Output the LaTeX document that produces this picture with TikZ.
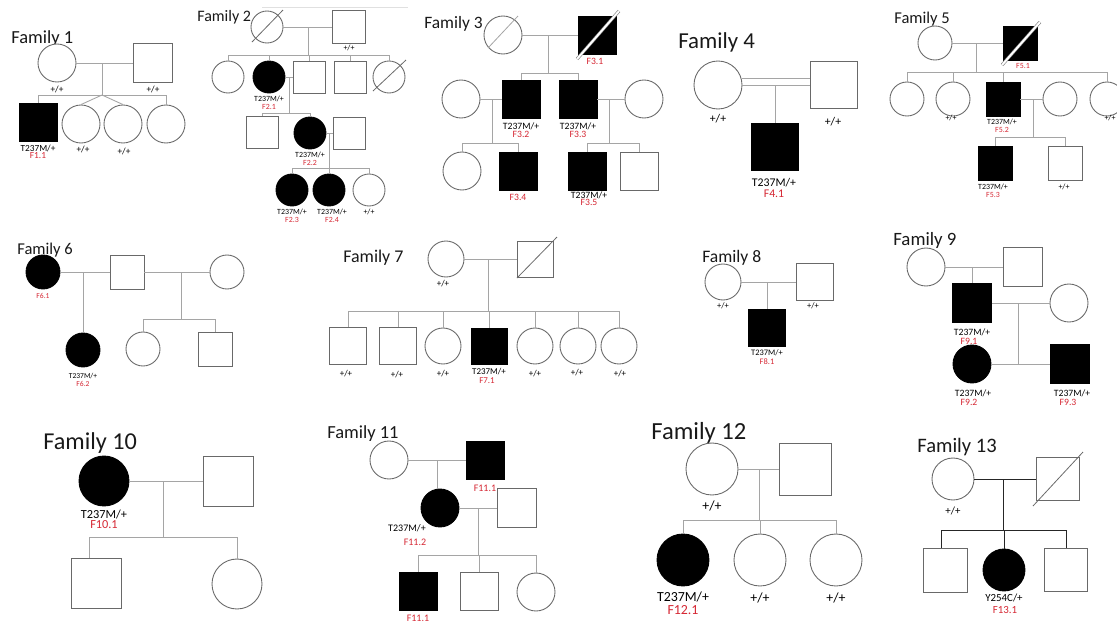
\documentclass[tikz,border=0pt]{standalone}
\usepackage{fontspec}
\setmainfont{Carlito}
\usetikzlibrary{calc}
\definecolor{outl}{RGB}{105,105,105}
\definecolor{lgray}{RGB}{165,165,165}
\definecolor{idred}{RGB}{214,40,52}
\definecolor{ink}{RGB}{25,25,25}
\tikzset{
  fem/.style={circle, draw=outl, fill=white, line width=0.5pt, inner sep=0pt, minimum size=#1*0.02cm},
  mal/.style={rectangle, draw=outl, fill=white, line width=0.5pt, inner sep=0pt, minimum size=#1*0.02cm},
  aff/.style={fill=black, draw=black},
  ln/.style={draw=lgray, line width=0.5pt},
  dk/.style={draw=black!85, line width=0.55pt},
  ded/.style={draw=outl, line width=0.45pt},
  dded/.style={draw=gray, double=white, double distance=1.1pt, line width=0.35pt},
  ttl/.style={anchor=base west, inner sep=0pt, text=ink, font=\fontsize{#1}{#1}\selectfont},
  gt/.style={inner sep=0pt, text=black, font=\fontsize{#1}{#1}\selectfont},
  pid/.style={inner sep=0pt, text=idred, font=\fontsize{#1}{#1}\selectfont},
}
\begin{document}
\begin{tikzpicture}[x=0.02cm, y=-0.02cm]
\fill[white] (0,0) rectangle (1117,623);
\useasboundingbox (0,0) rectangle (1117,623);

% ---------------- Family 1 ----------------
\node[ttl=10.5pt] (t1) at (11,43) {Family 1};
\node[fem=38] (f1m) at (57,63) {};
\node[mal=39] (f1f) at (153,63) {};
\coordinate (f1d) at (102,63);
\coordinate (f1s) at (102,95);
\node[mal=38,aff] (f1a) at (38,122) {};
\node[fem=38] (f1b) at (81,124) {};
\node[fem=38] (f1c) at (123,124) {};
\node[fem=38] (f1e) at (166,124) {};
\draw[ln] (f1m) -- (f1f);
\draw[ln] (f1d) -- (f1s);
\draw[ln] (f1a.north |- f1s) -- (f1e.north |- f1s);
\draw[ln] (f1a.north |- f1s) -- (f1a.north);
\draw[ln] (f1e.north |- f1s) -- (f1e.north);
\draw[ln] (f1s) -- (f1b.north);
\draw[ln] (f1s) -- (f1c.north);
\node[gt=5.3pt] (l1a) at (57,89) {+/+};
\node[gt=5.3pt] (l1b) at (153,89) {+/+};
\node[gt=5.3pt] (l1c) at (38,148) {T237M/+};
\node[pid=5.3pt] (l1d) at (38,155.5) {F1.1};
\node[gt=5.3pt] (l1e) at (83,149) {+/+};
\node[gt=5.3pt] (l1f) at (124,151) {+/+};

% ---------------- Family 2 ----------------
\draw[draw=black!12, line width=0.4pt] (262,7) -- (408,7);
\node[ttl=9.1pt] (t2) at (197,21) {Family 2};
\node[fem=32] (f2gm) at (267,27) {};
\node[mal=33] (f2gf) at (349,27) {};
\coordinate (f2d) at (308,27);
\coordinate (f2s) at (308,55);
\node[fem=32] (f2a) at (228,77) {};
\node[fem=32,aff] (f2b) at (269,77) {};
\node[mal=32] (f2c) at (309,77) {};
\node[mal=32] (f2e) at (350,77) {};
\node[fem=32] (f2x) at (389,77) {};
\coordinate (f2d2) at (289,77);
\coordinate (f2s2) at (289,113);
\node[mal=32] (f2g) at (262,132) {};
\node[fem=32,aff] (f2h) at (310,133) {};
\node[mal=32] (f2i) at (349,133) {};
\coordinate (f2d3) at (329,133);
\coordinate (f2s3) at (329,168);
\node[fem=32,aff] (f2j) at (292,190) {};
\node[fem=32,aff] (f2k) at (329,190) {};
\node[fem=32] (f2l) at (369,190) {};
\draw[ln] (f2gm) -- (f2gf);
\draw[ln] (f2d) -- (f2s);
\draw[ln] (f2a.north |- f2s) -- (f2x.north |- f2s);
\foreach \n in {f2a,f2b,f2c,f2e,f2x} \draw[ln] (\n.north |- f2s) -- (\n.north);
\draw[ln] (f2b) -- (f2c);
\draw[ln] (f2d2) -- (f2s2);
\draw[ln] (f2g.north |- f2s2) -- (f2h.north |- f2s2);
\foreach \n in {f2g,f2h} \draw[ln] (\n.north |- f2s2) -- (\n.north);
\draw[ln] (f2h) -- (f2i);
\draw[ln] (f2d3) -- (f2s3);
\draw[ln] (f2j.north |- f2s3) -- (f2l.north |- f2s3);
\foreach \n in {f2j,f2k,f2l} \draw[ln] (\n.north |- f2s3) -- (\n.north);
\draw[ded] ($(f2gm)+(-15,15)$) -- ($(f2gm)+(16,-17)$);
\draw[ded] ($(f2x)+(-16,14)$) -- ($(f2x)+(17,-17)$);
\node[gt=4.5pt] (l2a) at (349,48) {+/+};
\node[gt=4.5pt] (l2b) at (269,99) {T237M/+};
\node[pid=4.5pt] (l2c) at (269,107) {F2.1};
\node[gt=4.5pt] (l2d) at (310,155) {T237M/+};
\node[pid=4.5pt] (l2e) at (310,163) {F2.2};
\node[gt=4.5pt] (l2f) at (292,212) {T237M/+};
\node[pid=4.5pt] (l2g) at (292,220) {F2.3};
\node[gt=4.5pt] (l2h) at (332,212) {T237M/+};
\node[pid=4.5pt] (l2i) at (332,220) {F2.4};
\node[gt=4.5pt] (l2j) at (369,212) {+/+};

% ---------------- Family 3 ----------------
\node[ttl=9.9pt] (t3) at (424,28) {Family 3};
\node[fem=38] (f3gm) at (503,35) {};
\node[mal=38,aff] (f3gf) at (597,35) {};
\coordinate (f3d) at (548,35);
\coordinate (f3s) at (548,73);
\node[fem=38] (f3a) at (461,99) {};
\node[mal=38,aff] (f3b) at (521,99) {};
\node[mal=38,aff] (f3c) at (578,99) {};
\node[fem=38] (f3e) at (644,99) {};
\coordinate (f3d2) at (492,99);
\coordinate (f3s2) at (492,143);
\coordinate (f3d3) at (609,99);
\coordinate (f3s3) at (609,143);
\node[fem=38] (f3f) at (462,171) {};
\node[mal=38,aff] (f3g) at (518,171) {};
\node[mal=38,aff] (f3h) at (587,171) {};
\node[mal=38] (f3i) at (639,171) {};
\draw[ln] (f3gm) -- (f3gf);
\draw[ln] (f3d) -- (f3s);
\draw[ln] (f3b.north |- f3s) -- (f3c.north |- f3s);
\foreach \n in {f3b,f3c} \draw[ln] (\n.north |- f3s) -- (\n.north);
\draw[ln] (f3a) -- (f3b);
\draw[ln] (f3d2) -- (f3s2);
\draw[ln] (f3f.north |- f3s2) -- (f3g.north |- f3s2);
\foreach \n in {f3f,f3g} \draw[ln] (\n.north |- f3s2) -- (\n.north);
\draw[ln] (f3c) -- (f3e);
\draw[ln] (f3d3) -- (f3s3);
\draw[ln] (f3h.north |- f3s3) -- (f3i.north |- f3s3);
\foreach \n in {f3h,f3i} \draw[ln] (\n.north |- f3s3) -- (\n.north);
\draw[ded, draw=lgray] ($(f3gm)+(-15,13)$) -- ($(f3gm)+(15,-19)$);
\draw[dded] ($(f3gf)+(-20,24)$) -- ($(f3gf)+(22,-24)$);
\node[pid=5.5pt] (l3a) at (595,61) {F3.1};
\node[gt=5.5pt] (l3b) at (521,126) {T237M/+};
\node[pid=5.5pt] (l3c) at (521,134) {F3.2};
\node[gt=5.5pt] (l3d) at (578,126) {T237M/+};
\node[pid=5.5pt] (l3e) at (578,134) {F3.3};
\node[pid=5.5pt] (l3f) at (518,197) {F3.4};
\node[gt=5.5pt] (l3g) at (589,195) {T237M/+};
\node[pid=5.5pt] (l3h) at (589,202.5) {F3.5};

% ---------------- Family 4 ----------------
\node[ttl=13pt] (t4) at (678,48) {Family 4};
\node[fem=48] (f4m) at (718,85) {};
\node[mal=47] (f4f) at (834,85) {};
\node[mal=47,aff] (f4c) at (775,147) {};
\draw[ln] (f4m) -- (f4f);
\draw[ln] ([yshift=0.13cm]f4m.east) -- ([yshift=0.13cm]f4f.west);
\draw[ln] (f4c.north |- f4m) -- (f4c.north);
\node[gt=6.7pt] (l4a) at (718,119) {+/+};
\node[gt=6.7pt] (l4b) at (833,122) {+/+};
\node[gt=6.7pt] (l4c) at (774,183) {T237M/+};
\node[pid=6.7pt] (l4d) at (774,193.5) {F4.1};

% ---------------- Family 5 ----------------
\node[ttl=9.4pt] (t5) at (894,23) {Family 5};
\node[fem=34] (f5m) at (935,43) {};
\node[mal=34,aff] (f5f) at (1020,43) {};
\coordinate (f5d) at (976,43);
\coordinate (f5s) at (976,72);
\node[fem=34] (f5a) at (907,99) {};
\node[fem=34] (f5b) at (953,99) {};
\node[mal=34,aff] (f5c) at (1003,99) {};
\node[fem=34] (f5e) at (1060,99) {};
\node[fem=34] (f5x) at (1107,99) {};
\coordinate (f5d2) at (1033,99);
\coordinate (f5s2) at (1033,137);
\node[mal=34,aff] (f5g) at (995,163) {};
\node[mal=34] (f5h) at (1065,163) {};
\draw[ln] (f5m) -- (f5f);
\draw[ln] (f5d) -- (f5s);
\draw[ln] (f5a.north |- f5s) -- (f5x.north |- f5s);
\foreach \n in {f5a,f5b,f5c,f5x} \draw[ln] (\n.north |- f5s) -- (\n.north);
\draw[ln] (f5c) -- (f5e);
\draw[ln] (f5d2) -- (f5s2);
\draw[ln] (f5g.north |- f5s2) -- (f5h.north |- f5s2);
\foreach \n in {f5g,f5h} \draw[ln] (\n.north |- f5s2) -- (\n.north);
\draw[dded] ($(f5f)+(-18,22)$) -- ($(f5f)+(20,-21)$);
\node[pid=4.5pt] (l5a) at (1023,66) {F5.1};
\node[gt=4.5pt] (l5b) at (951,118) {+/+};
\node[gt=4.5pt] (l5c) at (1002,122) {T237M/+};
\node[pid=4.5pt] (l5d) at (1002,129.5) {F5.2};
\node[gt=4.5pt] (l5e) at (1110,118) {+/+};
\node[gt=4.5pt] (l5f) at (993,187) {T237M/+};
\node[pid=4.5pt] (l5g) at (993,195) {F5.3};
\node[gt=4.5pt] (l5h) at (1064,187) {+/+};

% ---------------- Family 6 ----------------
\node[ttl=9.4pt] (t6) at (17,254) {Family 6};
\node[fem=34,aff] (f6a) at (43,272) {};
\node[mal=34] (f6b) at (127,272) {};
\node[fem=34] (f6c) at (227,272) {};
\node[fem=34,aff] (f6d) at (83,350) {};
\coordinate (f6d2) at (181,272);
\coordinate (f6s2) at (181,319);
\node[fem=34] (f6e) at (143,349) {};
\node[mal=34] (f6f) at (215,349) {};
\draw[ln] (f6a) -- (f6b);
\draw[ln] (f6b) -- (f6c);
\draw[ln] (f6d.north |- f6a) -- (f6d.north);
\draw[ln] (f6d2) -- (f6s2);
\draw[ln] (f6e.north |- f6s2) -- (f6f.north |- f6s2);
\foreach \n in {f6e,f6f} \draw[ln] (\n.north |- f6s2) -- (\n.north);
\node[pid=4.3pt] (l6a) at (43,296) {F6.1};
\node[gt=4.3pt] (l6b) at (83,376) {T237M/+};
\node[pid=4.3pt] (l6c) at (83,384) {F6.2};

% ---------------- Family 7 ----------------
\node[ttl=10.2pt] (t7) at (343,262) {Family 7};
\node[fem=36] (f7m) at (446,259) {};
\node[mal=36] (f7f) at (535,259) {};
\coordinate (f7d) at (488,259);
\coordinate (f7s) at (488,311);
\node[mal=37] (f7a) at (348,346) {};
\node[mal=37] (f7b) at (398,346) {};
\node[fem=36] (f7c) at (443,346) {};
\node[mal=36,aff] (f7e) at (489,346) {};
\node[fem=36] (f7g) at (535,346) {};
\node[fem=36] (f7h) at (578,346) {};
\node[fem=36] (f7i) at (619,346) {};
\draw[ln] (f7m) -- (f7f);
\draw[ln] (f7d) -- (f7s);
\draw[ln] (f7a.north |- f7s) -- (f7i.north |- f7s);
\foreach \n in {f7a,f7b,f7c,f7e,f7g,f7h,f7i} \draw[ln] (\n.north |- f7s) -- (\n.north);
\draw[ded] ($(f7f)+(-18,19)$) -- ($(f7f)+(22,-22)$);
\node[gt=5.1pt] (l7a) at (443,284) {+/+};
\node[gt=5.1pt] (l7b) at (346,374) {+/+};
\node[gt=5.1pt] (l7c) at (397,375) {+/+};
\node[gt=5.1pt] (l7d) at (443,374) {+/+};
\node[gt=5.1pt] (l7e) at (489,372) {T237M/+};
\node[pid=5.1pt] (l7f) at (487,381) {F7.1};
\node[gt=5.1pt] (l7g) at (535,374) {+/+};
\node[gt=5.1pt] (l7h) at (577,373) {+/+};
\node[gt=5.1pt] (l7i) at (620,374) {+/+};

% ---------------- Family 8 ----------------
\node[ttl=10pt] (t8) at (702,262) {Family 8};
\node[fem=36] (f8m) at (723,282) {};
\node[mal=37] (f8f) at (815,282) {};
\node[mal=37,aff] (f8c) at (767,328) {};
\draw[ln] (f8m) -- (f8f);
\draw[ln] (f8c.north |- f8m) -- (f8c.north);
\node[gt=4.8pt] (l8a) at (723,306) {+/+};
\node[gt=4.8pt] (l8b) at (813,306) {+/+};
\node[gt=4.8pt] (l8c) at (767,353) {T237M/+};
\node[pid=4.8pt] (l8d) at (767,362) {F8.1};

% ---------------- Family 9 ----------------
\node[ttl=10.7pt] (t9) at (893,245) {Family 9};
\node[fem=38] (f9m) at (926,267) {};
\node[mal=39] (f9f) at (1023,267) {};
\node[mal=39,aff] (f9a) at (972,303) {};
\node[fem=38] (f9s) at (1069,303) {};
\coordinate (f9d) at (1018,303);
\node[fem=38,aff] (f9b) at (972,364) {};
\node[mal=39,aff] (f9c) at (1070,364) {};
\draw[ln] (f9m) -- (f9f);
\draw[ln] (f9a.north |- f9m) -- (f9a.north);
\draw[ln] (f9a) -- (f9s);
\draw[ln] (f9d) -- (f9d |- f9b);
\draw[ln] (f9b) -- (f9c);
\node[gt=5.5pt] (l9a) at (972,332) {T237M/+};
\node[pid=5.5pt] (l9b) at (969,341) {F9.1};
\node[gt=5.5pt] (l9c) at (973,393) {T237M/+};
\node[pid=5.5pt] (l9d) at (969,402.5) {F9.2};
\node[gt=5.5pt] (l9e) at (1072,393) {T237M/+};
\node[pid=5.5pt] (l9f) at (1068,402.5) {F9.3};

% ---------------- Family 10 ----------------
\node[ttl=13.8pt] (t10) at (43,449) {Family 10};
\node[fem=50,aff] (f10m) at (104,481) {};
\node[mal=50] (f10f) at (228,481) {};
\coordinate (f10d) at (163,481);
\coordinate (f10s) at (163,537);
\node[mal=50] (f10a) at (96,583) {};
\node[fem=50] (f10b) at (237,584) {};
\draw[ln] (f10m) -- (f10f);
\draw[ln] (f10d) -- (f10s);
\draw[ln] ([xshift=-0.14cm]f10a.north |- f10s) -- (f10b.north |- f10s);
\draw[ln] ([xshift=-0.14cm]f10a.north |- f10s) -- ([xshift=-0.14cm]f10a.north);
\draw[ln] (f10b.north |- f10s) -- (f10b.north);
\node[gt=7pt] (l10a) at (104,514) {T237M/+};
\node[pid=7pt] (l10b) at (104,525) {F10.1};

% ---------------- Family 11 ----------------
\node[ttl=10.5pt] (t11) at (327,438) {Family 11};
\node[fem=38] (f11m) at (389,460) {};
\node[mal=38,aff] (f11f) at (485,460) {};
\node[fem=38,aff] (f11a) at (440,508) {};
\node[mal=39] (f11s) at (517,508) {};
\coordinate (f11d) at (478,508);
\coordinate (f11sb) at (478,555);
\node[mal=38,aff] (f11b) at (418,591) {};
\node[mal=38] (f11c) at (479,591) {};
\node[fem=38] (f11e) at (536,592) {};
\draw[ln] (f11m) -- (f11f);
\draw[ln] ([xshift=-0.06cm]f11a.north |- f11m) -- ([xshift=-0.06cm]f11a.north);
\draw[ln] (f11a) -- (f11s);
\draw[ln] (f11d) -- (f11sb);
\draw[ln] (f11b.north |- f11sb) -- (f11e.north |- f11sb);
\foreach \n in {f11b,f11c,f11e} \draw[ln] (\n.north |- f11sb) -- (\n.north);
\node[pid=5.7pt] (l11a) at (485,488) {F11.1};
\node[gt=5.7pt] (l11b) at (407,528) {T237M/+};
\node[pid=5.7pt] (l11c) at (415,542) {F11.2};
\node[pid=5.7pt] (l11d) at (418,618) {F11.1};

% ---------------- Family 12 ----------------
\node[ttl=14pt] (t12) at (651,439) {Family 12};
\node[fem=52] (f12m) at (712,469) {};
\node[mal=52] (f12f) at (805,469) {};
\coordinate (f12d) at (759,469);
\coordinate (f12s) at (759,520);
\node[fem=52,aff] (f12a) at (683,560) {};
\node[fem=52] (f12b) at (760,560) {};
\node[fem=52] (f12c) at (836,560) {};
\draw[ln] (f12m) -- (f12f);
\draw[ln] (f12d) -- (f12s);
\draw[ln] (f12a.north |- f12s) -- (f12c.north |- f12s);
\foreach \n in {f12a,f12b,f12c} \draw[ln] (\n.north |- f12s) -- (\n.north);
\node[gt=7.9pt] (l12a) at (712,506) {+/+};
\node[gt=7.9pt] (l12b) at (683,597) {T237M/+};
\node[pid=7.9pt] (l12c) at (683,610) {F12.1};
\node[gt=7.9pt] (l12d) at (760,598) {+/+};
\node[gt=7.9pt] (l12e) at (836,598) {+/+};

% ---------------- Family 13 ----------------
\node[ttl=11.7pt] (t13) at (917,452) {Family 13};
\node[fem=42] (f13m) at (953,479) {};
\node[mal=43] (f13f) at (1058,479) {};
\coordinate (f13d) at (1003,479);
\coordinate (f13s) at (1003,530);
\node[mal=44] (f13a) at (945,570) {};
\node[fem=42,aff] (f13b) at (1004,570) {};
\node[mal=43] (f13c) at (1066,570) {};
\draw[dk] (f13m) -- (f13f);
\draw[dk] (f13d) -- (f13s);
\draw[dk] ([xshift=-0.08cm]f13a.north |- f13s) -- (f13c.north |- f13s);
\draw[dk] ([xshift=-0.08cm]f13a.north |- f13s) -- ([xshift=-0.08cm]f13a.north);
\foreach \n in {f13b,f13c} \draw[dk] (\n.north |- f13s) -- (\n.north);
\draw[ded] ($(f13f)+(-25,27)$) -- ($(f13f)+(25,-27)$);
\node[gt=6.2pt] (l13a) at (953,511) {+/+};
\node[gt=6.2pt] (l13b) at (1004,598) {Y254C/+};
\node[pid=6.2pt] (l13c) at (1005,610) {F13.1};
\end{tikzpicture}
\end{document}
